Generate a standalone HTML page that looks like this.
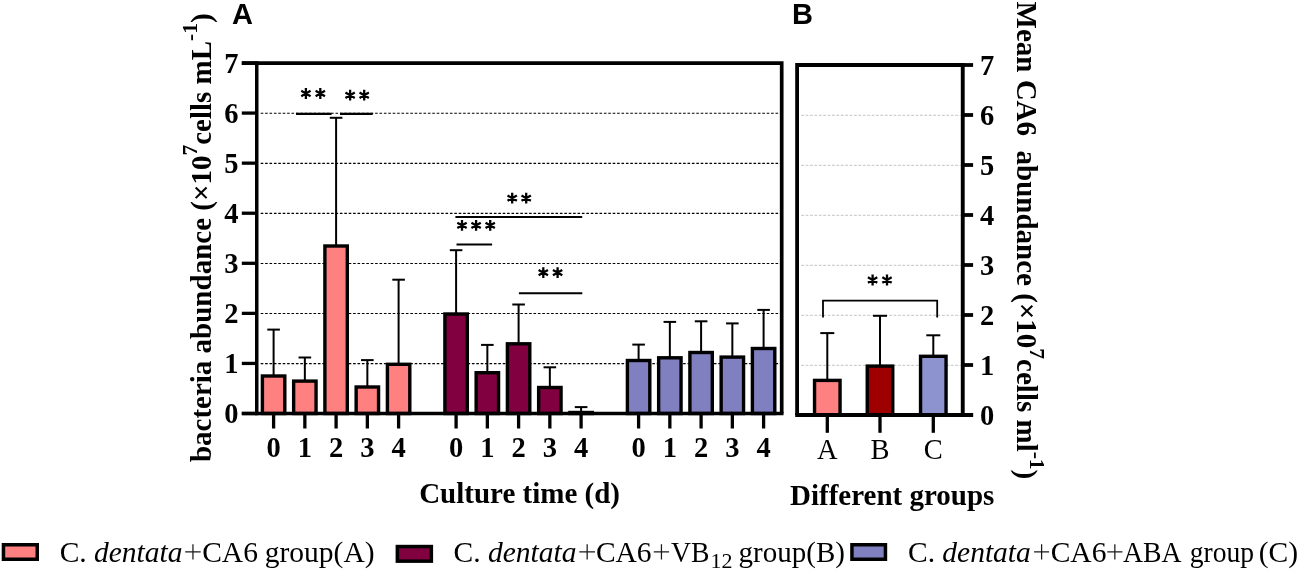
<!DOCTYPE html>
<html><head><meta charset="utf-8"><style>
html,body{margin:0;padding:0;background:#fff;}
body{width:1299px;height:571px;overflow:hidden;}
svg{display:block;will-change:transform;}
.b{font-family:"Liberation Serif",serif;font-weight:bold;fill:#000;}
.r{font-family:"Liberation Serif",serif;font-weight:normal;fill:#000;}
.s{font-family:"Liberation Sans",sans-serif;font-weight:bold;fill:#000;}
.p{font-family:"Liberation Sans",sans-serif;font-weight:bold;fill:#000;}
</style></head><body>
<svg width="1299" height="571" viewBox="0 0 1299 571">
<line x1="260.7" y1="363.63" x2="780" y2="363.63" stroke="#000" stroke-width="1.1" stroke-dasharray="2.6 1.8"/>
<line x1="260.7" y1="313.56" x2="780" y2="313.56" stroke="#000" stroke-width="1.1" stroke-dasharray="2.6 1.8"/>
<line x1="260.7" y1="263.49" x2="780" y2="263.49" stroke="#000" stroke-width="1.1" stroke-dasharray="2.6 1.8"/>
<line x1="260.7" y1="213.42" x2="780" y2="213.42" stroke="#000" stroke-width="1.1" stroke-dasharray="2.6 1.8"/>
<line x1="260.7" y1="163.35" x2="780" y2="163.35" stroke="#000" stroke-width="1.1" stroke-dasharray="2.6 1.8"/>
<line x1="260.7" y1="113.28" x2="780" y2="113.28" stroke="#000" stroke-width="1.1" stroke-dasharray="2.6 1.8"/>
<line x1="273.60" y1="376.00" x2="273.60" y2="329.60" stroke="#000" stroke-width="2"/>
<line x1="267.30" y1="329.60" x2="279.90" y2="329.60" stroke="#000" stroke-width="2"/>
<line x1="304.85" y1="381.10" x2="304.85" y2="357.50" stroke="#000" stroke-width="2"/>
<line x1="298.55" y1="357.50" x2="311.15" y2="357.50" stroke="#000" stroke-width="2"/>
<line x1="336.10" y1="246.00" x2="336.10" y2="117.80" stroke="#000" stroke-width="2"/>
<line x1="329.80" y1="117.80" x2="342.40" y2="117.80" stroke="#000" stroke-width="2"/>
<line x1="367.35" y1="387.00" x2="367.35" y2="360.10" stroke="#000" stroke-width="2"/>
<line x1="361.05" y1="360.10" x2="373.65" y2="360.10" stroke="#000" stroke-width="2"/>
<line x1="398.60" y1="364.30" x2="398.60" y2="279.70" stroke="#000" stroke-width="2"/>
<line x1="392.30" y1="279.70" x2="404.90" y2="279.70" stroke="#000" stroke-width="2"/>
<line x1="456.10" y1="314.00" x2="456.10" y2="250.20" stroke="#000" stroke-width="2"/>
<line x1="449.80" y1="250.20" x2="462.40" y2="250.20" stroke="#000" stroke-width="2"/>
<line x1="487.35" y1="372.70" x2="487.35" y2="344.90" stroke="#000" stroke-width="2"/>
<line x1="481.05" y1="344.90" x2="493.65" y2="344.90" stroke="#000" stroke-width="2"/>
<line x1="518.60" y1="343.80" x2="518.60" y2="304.50" stroke="#000" stroke-width="2"/>
<line x1="512.30" y1="304.50" x2="524.90" y2="304.50" stroke="#000" stroke-width="2"/>
<line x1="549.85" y1="387.50" x2="549.85" y2="367.30" stroke="#000" stroke-width="2"/>
<line x1="543.55" y1="367.30" x2="556.15" y2="367.30" stroke="#000" stroke-width="2"/>
<line x1="581.10" y1="412.50" x2="581.10" y2="407.10" stroke="#000" stroke-width="2"/>
<line x1="574.80" y1="407.10" x2="587.40" y2="407.10" stroke="#000" stroke-width="2"/>
<line x1="638.60" y1="360.50" x2="638.60" y2="344.60" stroke="#000" stroke-width="2"/>
<line x1="632.30" y1="344.60" x2="644.90" y2="344.60" stroke="#000" stroke-width="2"/>
<line x1="669.85" y1="357.80" x2="669.85" y2="321.90" stroke="#000" stroke-width="2"/>
<line x1="663.55" y1="321.90" x2="676.15" y2="321.90" stroke="#000" stroke-width="2"/>
<line x1="701.10" y1="352.50" x2="701.10" y2="321.30" stroke="#000" stroke-width="2"/>
<line x1="694.80" y1="321.30" x2="707.40" y2="321.30" stroke="#000" stroke-width="2"/>
<line x1="732.35" y1="357.10" x2="732.35" y2="323.40" stroke="#000" stroke-width="2"/>
<line x1="726.05" y1="323.40" x2="738.65" y2="323.40" stroke="#000" stroke-width="2"/>
<line x1="763.60" y1="348.50" x2="763.60" y2="309.90" stroke="#000" stroke-width="2"/>
<line x1="757.30" y1="309.90" x2="769.90" y2="309.90" stroke="#000" stroke-width="2"/>
<rect x="262.40" y="376.00" width="22.4" height="37.50" fill="#FF8080" stroke="#000" stroke-width="3.4"/>
<rect x="293.65" y="381.10" width="22.4" height="32.40" fill="#FF8080" stroke="#000" stroke-width="3.4"/>
<rect x="324.90" y="246.00" width="22.4" height="167.50" fill="#FF8080" stroke="#000" stroke-width="3.4"/>
<rect x="356.15" y="387.00" width="22.4" height="26.50" fill="#FF8080" stroke="#000" stroke-width="3.4"/>
<rect x="387.40" y="364.30" width="22.4" height="49.20" fill="#FF8080" stroke="#000" stroke-width="3.4"/>
<rect x="444.90" y="314.00" width="22.4" height="99.50" fill="#800040" stroke="#000" stroke-width="3.4"/>
<rect x="476.15" y="372.70" width="22.4" height="40.80" fill="#800040" stroke="#000" stroke-width="3.4"/>
<rect x="507.40" y="343.80" width="22.4" height="69.70" fill="#800040" stroke="#000" stroke-width="3.4"/>
<rect x="538.65" y="387.50" width="22.4" height="26.00" fill="#800040" stroke="#000" stroke-width="3.4"/>
<rect x="569.90" y="412.50" width="22.4" height="1.00" fill="#800040" stroke="#000" stroke-width="3.4"/>
<rect x="627.40" y="360.50" width="22.4" height="53.00" fill="#8080C0" stroke="#000" stroke-width="3.4"/>
<rect x="658.65" y="357.80" width="22.4" height="55.70" fill="#8080C0" stroke="#000" stroke-width="3.4"/>
<rect x="689.90" y="352.50" width="22.4" height="61.00" fill="#8080C0" stroke="#000" stroke-width="3.4"/>
<rect x="721.15" y="357.10" width="22.4" height="56.40" fill="#8080C0" stroke="#000" stroke-width="3.4"/>
<rect x="752.40" y="348.50" width="22.4" height="65.00" fill="#8080C0" stroke="#000" stroke-width="3.4"/>
<path d="M241.8 63.15H781.7V413.5" fill="none" stroke="#000" stroke-width="3.7"/>
<line x1="256.75" y1="61.3" x2="256.75" y2="415.2" stroke="#000" stroke-width="3.5"/>
<line x1="241.8" y1="413.5" x2="783.5" y2="413.5" stroke="#000" stroke-width="3.3"/>
<line x1="241.8" y1="413.50" x2="256.75" y2="413.50" stroke="#000" stroke-width="3.3"/>
<text x="238.4" y="423.40" class="b" text-anchor="end" font-size="28.5">0</text>
<line x1="241.8" y1="363.43" x2="256.75" y2="363.43" stroke="#000" stroke-width="3.3"/>
<text x="238.4" y="373.33" class="b" text-anchor="end" font-size="28.5">1</text>
<line x1="241.8" y1="313.36" x2="256.75" y2="313.36" stroke="#000" stroke-width="3.3"/>
<text x="238.4" y="323.26" class="b" text-anchor="end" font-size="28.5">2</text>
<line x1="241.8" y1="263.29" x2="256.75" y2="263.29" stroke="#000" stroke-width="3.3"/>
<text x="238.4" y="273.19" class="b" text-anchor="end" font-size="28.5">3</text>
<line x1="241.8" y1="213.22" x2="256.75" y2="213.22" stroke="#000" stroke-width="3.3"/>
<text x="238.4" y="223.12" class="b" text-anchor="end" font-size="28.5">4</text>
<line x1="241.8" y1="163.15" x2="256.75" y2="163.15" stroke="#000" stroke-width="3.3"/>
<text x="238.4" y="173.05" class="b" text-anchor="end" font-size="28.5">5</text>
<line x1="241.8" y1="113.08" x2="256.75" y2="113.08" stroke="#000" stroke-width="3.3"/>
<text x="238.4" y="122.98" class="b" text-anchor="end" font-size="28.5">6</text>
<line x1="241.8" y1="63.01" x2="256.75" y2="63.01" stroke="#000" stroke-width="3.3"/>
<text x="238.4" y="72.91" class="b" text-anchor="end" font-size="28.5">7</text>
<line x1="273.60" y1="415" x2="273.60" y2="428.5" stroke="#000" stroke-width="3.3"/>
<text x="273.60" y="456.5" class="b" text-anchor="middle" font-size="28.5">0</text>
<line x1="304.85" y1="415" x2="304.85" y2="428.5" stroke="#000" stroke-width="3.3"/>
<text x="304.85" y="456.5" class="b" text-anchor="middle" font-size="28.5">1</text>
<line x1="336.10" y1="415" x2="336.10" y2="428.5" stroke="#000" stroke-width="3.3"/>
<text x="336.10" y="456.5" class="b" text-anchor="middle" font-size="28.5">2</text>
<line x1="367.35" y1="415" x2="367.35" y2="428.5" stroke="#000" stroke-width="3.3"/>
<text x="367.35" y="456.5" class="b" text-anchor="middle" font-size="28.5">3</text>
<line x1="398.60" y1="415" x2="398.60" y2="428.5" stroke="#000" stroke-width="3.3"/>
<text x="398.60" y="456.5" class="b" text-anchor="middle" font-size="28.5">4</text>
<line x1="456.10" y1="415" x2="456.10" y2="428.5" stroke="#000" stroke-width="3.3"/>
<text x="456.10" y="456.5" class="b" text-anchor="middle" font-size="28.5">0</text>
<line x1="487.35" y1="415" x2="487.35" y2="428.5" stroke="#000" stroke-width="3.3"/>
<text x="487.35" y="456.5" class="b" text-anchor="middle" font-size="28.5">1</text>
<line x1="518.60" y1="415" x2="518.60" y2="428.5" stroke="#000" stroke-width="3.3"/>
<text x="518.60" y="456.5" class="b" text-anchor="middle" font-size="28.5">2</text>
<line x1="549.85" y1="415" x2="549.85" y2="428.5" stroke="#000" stroke-width="3.3"/>
<text x="549.85" y="456.5" class="b" text-anchor="middle" font-size="28.5">3</text>
<line x1="581.10" y1="415" x2="581.10" y2="428.5" stroke="#000" stroke-width="3.3"/>
<text x="581.10" y="456.5" class="b" text-anchor="middle" font-size="28.5">4</text>
<line x1="638.60" y1="415" x2="638.60" y2="428.5" stroke="#000" stroke-width="3.3"/>
<text x="638.60" y="456.5" class="b" text-anchor="middle" font-size="28.5">0</text>
<line x1="669.85" y1="415" x2="669.85" y2="428.5" stroke="#000" stroke-width="3.3"/>
<text x="669.85" y="456.5" class="b" text-anchor="middle" font-size="28.5">1</text>
<line x1="701.10" y1="415" x2="701.10" y2="428.5" stroke="#000" stroke-width="3.3"/>
<text x="701.10" y="456.5" class="b" text-anchor="middle" font-size="28.5">2</text>
<line x1="732.35" y1="415" x2="732.35" y2="428.5" stroke="#000" stroke-width="3.3"/>
<text x="732.35" y="456.5" class="b" text-anchor="middle" font-size="28.5">3</text>
<line x1="763.60" y1="415" x2="763.60" y2="428.5" stroke="#000" stroke-width="3.3"/>
<text x="763.60" y="456.5" class="b" text-anchor="middle" font-size="28.5">4</text>
<line x1="296.0" y1="113.85" x2="331.6" y2="113.85" stroke="#000" stroke-width="2.1"/>
<line x1="340.0" y1="113.85" x2="372.7" y2="113.85" stroke="#000" stroke-width="2.1"/>
<line x1="455.4" y1="217.1" x2="582.2" y2="217.1" stroke="#000" stroke-width="2.0"/>
<line x1="456.5" y1="244.4" x2="492.1" y2="244.4" stroke="#000" stroke-width="2.0"/>
<line x1="518.9" y1="293.2" x2="582.3" y2="293.2" stroke="#000" stroke-width="2.0"/>
<path d="M305.90 88.10V98.90M301.22 90.80L310.58 96.20M301.22 96.20L310.58 90.80M320.30 88.10V98.90M315.62 90.80L324.98 96.20M315.62 96.20L324.98 90.80" stroke="#000" stroke-width="2.3" fill="none"/>
<path d="M350.10 89.80V100.60M345.42 92.50L354.78 97.90M345.42 97.90L354.78 92.50M364.20 89.80V100.60M359.52 92.50L368.88 97.90M359.52 97.90L368.88 92.50" stroke="#000" stroke-width="2.3" fill="none"/>
<path d="M512.20 192.70V203.50M507.52 195.40L516.88 200.80M507.52 200.80L516.88 195.40M526.20 192.70V203.50M521.52 195.40L530.88 200.80M521.52 200.80L530.88 195.40" stroke="#000" stroke-width="2.3" fill="none"/>
<path d="M462.00 220.00V230.80M457.32 222.70L466.68 228.10M457.32 228.10L466.68 222.70M476.10 220.00V230.80M471.42 222.70L480.78 228.10M471.42 228.10L480.78 222.70M490.20 220.00V230.80M485.52 222.70L494.88 228.10M485.52 228.10L494.88 222.70" stroke="#000" stroke-width="2.3" fill="none"/>
<path d="M543.30 267.20V278.00M538.62 269.90L547.98 275.30M538.62 275.30L547.98 269.90M557.60 267.20V278.00M552.92 269.90L562.28 275.30M552.92 275.30L562.28 269.90" stroke="#000" stroke-width="2.3" fill="none"/>
<line x1="801.2" y1="365.40" x2="960.8" y2="365.40" stroke="#cfcfcf" stroke-width="1.1" stroke-dasharray="2.8 1.6"/>
<line x1="801.2" y1="315.40" x2="960.8" y2="315.40" stroke="#cfcfcf" stroke-width="1.1" stroke-dasharray="2.8 1.6"/>
<line x1="801.2" y1="265.40" x2="960.8" y2="265.40" stroke="#cfcfcf" stroke-width="1.1" stroke-dasharray="2.8 1.6"/>
<line x1="801.2" y1="215.40" x2="960.8" y2="215.40" stroke="#cfcfcf" stroke-width="1.1" stroke-dasharray="2.8 1.6"/>
<line x1="801.2" y1="165.40" x2="960.8" y2="165.40" stroke="#cfcfcf" stroke-width="1.1" stroke-dasharray="2.8 1.6"/>
<line x1="801.2" y1="115.40" x2="960.8" y2="115.40" stroke="#cfcfcf" stroke-width="1.1" stroke-dasharray="2.8 1.6"/>
<line x1="827.3" y1="380.4" x2="827.3" y2="333.1" stroke="#000" stroke-width="2"/>
<line x1="820.3" y1="333.1" x2="834.3" y2="333.1" stroke="#000" stroke-width="2"/>
<line x1="880.0" y1="366.1" x2="880.0" y2="315.8" stroke="#000" stroke-width="2"/>
<line x1="873.0" y1="315.8" x2="887.0" y2="315.8" stroke="#000" stroke-width="2"/>
<line x1="933.3" y1="356.3" x2="933.3" y2="335.3" stroke="#000" stroke-width="2"/>
<line x1="926.3" y1="335.3" x2="940.3" y2="335.3" stroke="#000" stroke-width="2"/>
<rect x="814.55" y="380.4" width="25.5" height="34.60" fill="#FF8080" stroke="#000" stroke-width="3.4"/>
<rect x="867.25" y="366.1" width="25.5" height="48.90" fill="#9E0000" stroke="#000" stroke-width="3.4"/>
<rect x="920.55" y="356.3" width="25.5" height="58.70" fill="#8D93CF" stroke="#000" stroke-width="3.4"/>
<path d="M962.75 65H797.1V415" fill="none" stroke="#000" stroke-width="3.8"/>
<line x1="795.2" y1="415" x2="973.1" y2="415" stroke="#000" stroke-width="3.8"/>
<line x1="962.75" y1="63.1" x2="962.75" y2="416.9" stroke="#000" stroke-width="3.9"/>
<line x1="962.75" y1="415.0" x2="973.1" y2="415.0" stroke="#000" stroke-width="3.8"/>
<text x="980.0" y="424.90" class="b" font-size="28.5">0</text>
<line x1="962.75" y1="365.0" x2="973.1" y2="365.0" stroke="#000" stroke-width="3.8"/>
<text x="980.0" y="374.90" class="b" font-size="28.5">1</text>
<line x1="962.75" y1="315.0" x2="973.1" y2="315.0" stroke="#000" stroke-width="3.8"/>
<text x="980.0" y="324.90" class="b" font-size="28.5">2</text>
<line x1="962.75" y1="265.0" x2="973.1" y2="265.0" stroke="#000" stroke-width="3.8"/>
<text x="980.0" y="274.90" class="b" font-size="28.5">3</text>
<line x1="962.75" y1="215.0" x2="973.1" y2="215.0" stroke="#000" stroke-width="3.8"/>
<text x="980.0" y="224.90" class="b" font-size="28.5">4</text>
<line x1="962.75" y1="165.0" x2="973.1" y2="165.0" stroke="#000" stroke-width="3.8"/>
<text x="980.0" y="174.90" class="b" font-size="28.5">5</text>
<line x1="962.75" y1="115.0" x2="973.1" y2="115.0" stroke="#000" stroke-width="3.8"/>
<text x="980.0" y="124.90" class="b" font-size="28.5">6</text>
<line x1="962.75" y1="65.0" x2="973.1" y2="65.0" stroke="#000" stroke-width="3.8"/>
<text x="980.0" y="74.90" class="b" font-size="28.5">7</text>
<line x1="827.3" y1="416.9" x2="827.3" y2="432.8" stroke="#000" stroke-width="3.3"/>
<text x="827.3" y="458.5" class="r" text-anchor="middle" font-size="28.5">A</text>
<line x1="880.0" y1="416.9" x2="880.0" y2="432.8" stroke="#000" stroke-width="3.3"/>
<text x="880.0" y="458.5" class="r" text-anchor="middle" font-size="28.5">B</text>
<line x1="933.3" y1="416.9" x2="933.3" y2="432.8" stroke="#000" stroke-width="3.3"/>
<text x="933.3" y="458.5" class="r" text-anchor="middle" font-size="28.5">C</text>
<path d="M823 317.5V300.6H937.2V317.5" fill="none" stroke="#000" stroke-width="1.8"/>
<path d="M872.60 274.60V285.40M867.92 277.30L877.28 282.70M867.92 282.70L877.28 277.30M887.00 274.60V285.40M882.32 277.30L891.68 282.70M882.32 282.70L891.68 277.30" stroke="#000" stroke-width="2.3" fill="none"/>
<text x="232" y="23.9" class="p" font-size="29">A</text>
<text x="792" y="23.9" class="p" font-size="29">B</text>
<text x="519.6" y="502.8" class="b" text-anchor="middle" font-size="29">Culture time (d)</text>
<text x="892.2" y="505.1" class="b" text-anchor="middle" font-size="29">Different groups</text>
<text transform="translate(211.2 237.7) rotate(-90)" class="b" text-anchor="middle" font-size="29">bacteria abundance (×10<tspan dy="-14" font-size="21.5">7</tspan><tspan dy="14">cells mL</tspan><tspan dy="-14" font-size="21.5">-1</tspan><tspan dy="14">)</tspan></text>
<text transform="translate(1017 240.4) rotate(90)" class="b" text-anchor="middle" font-size="29">Mean CA6&#160; abundance (×10<tspan dy="-13.2" font-size="21.5">7</tspan><tspan dy="13.2">cells ml</tspan><tspan dy="-13.2" font-size="21.5">-1</tspan><tspan dy="13.2">)</tspan></text>
<rect x="3.45" y="544.75" width="33.8" height="14.5" fill="#FF8080" stroke="#000" stroke-width="3.5"/>
<rect x="397.35" y="546.55" width="34.0" height="14.600000000000023" fill="#800040" stroke="#000" stroke-width="3.5"/>
<rect x="851.95" y="544.75" width="33.5" height="14.5" fill="#8080C0" stroke="#000" stroke-width="3.5"/>
<text x="59.7" y="561.9" class="r" font-size="29.5">C.</text>
<text x="93.9" y="561.9" class="r" font-size="29.5" font-style="italic">dentata</text>
<path d="M185.2 551.9H200.7M192.95 544.25V559.55" stroke="#1a1a1a" stroke-width="1.25" fill="none"/>
<text x="202.2" y="561.9" class="r" font-size="29.5">CA6</text>
<text x="264.8" y="561.9" class="r" font-size="29.5">group(A)</text>
<text x="453.6" y="561.9" class="r" font-size="29.5">C.</text>
<text x="487.9" y="561.9" class="r" font-size="29.5" font-style="italic">dentata</text>
<path d="M579.3 551.9H595.0M587.15 544.25V559.55" stroke="#1a1a1a" stroke-width="1.25" fill="none"/>
<text x="595.9" y="561.9" class="r" font-size="29.5">CA6</text>
<path d="M653.8 551.9H669.1M661.45 544.25V559.55" stroke="#1a1a1a" stroke-width="1.25" fill="none"/>
<text x="671.1" y="561.9" class="r" font-size="29.5" textLength="38.5" lengthAdjust="spacingAndGlyphs">VB</text>
<text x="710.5" y="567.6" class="r" font-size="22">12</text>
<text x="738.6" y="561.9" class="r" font-size="29.5" textLength="106.3" lengthAdjust="spacingAndGlyphs">group(B)</text>
<text x="908.1" y="561.9" class="r" font-size="29.5">C.</text>
<text x="942.3" y="561.9" class="r" font-size="29.5" font-style="italic">dentata</text>
<path d="M1034.1 551.9H1049.1M1041.60 544.25V559.55" stroke="#1a1a1a" stroke-width="1.25" fill="none"/>
<text x="1050.7" y="561.9" class="r" font-size="29.5">CA6</text>
<path d="M1107.3 551.9H1122.4M1114.85 544.25V559.55" stroke="#1a1a1a" stroke-width="1.25" fill="none"/>
<text x="1123.0" y="561.9" class="r" font-size="29.5" textLength="58.6" lengthAdjust="spacingAndGlyphs">ABA</text>
<text x="1189.7" y="561.9" class="r" font-size="29.5" textLength="64.3" lengthAdjust="spacingAndGlyphs">group</text>
<text x="1258.7" y="561.9" class="r" font-size="29.5">(C)</text>
</svg>
</body></html>
